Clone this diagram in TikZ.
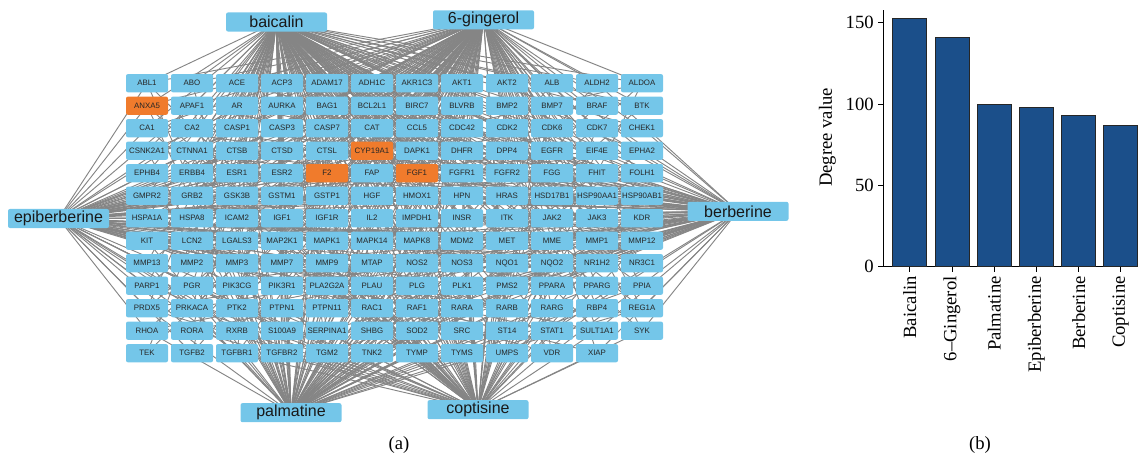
\documentclass[tikz,border=0pt]{standalone}
\usepackage{fontspec}
\setmainfont{Liberation Serif}
\newfontfamily\arialf{Liberation Sans}
\usetikzlibrary{backgrounds}
\definecolor{tblue}{HTML}{74C6E9}
\definecolor{torange}{HTML}{F07B2C}
\definecolor{edgegray}{HTML}{858585}
\definecolor{barblue}{HTML}{1B4F8A}
\begin{document}
\begin{tikzpicture}[x=0.75pt,y=-0.75pt,
  tgt/.style={rectangle,rounded corners=1.5pt,minimum width=31.5pt,minimum height=13.7pt,inner sep=0pt,font=\arialf\fontsize{5.9}{6}\selectfont,text=black!85},
  cmp/.style={rectangle,rounded corners=1.5pt,fill=tblue,minimum width=75.75pt,minimum height=14.3pt,inner sep=0pt,font=\arialf\fontsize{12}{12}\selectfont,text=black!90},
  edge/.style={draw=edgegray,line width=0.7pt},
  serifl/.style={font=\fontsize{14}{14}\selectfont,inner sep=0pt},
  bar/.style={fill=barblue,draw=black!85,line width=0.6pt},
  axis/.style={draw=black,line width=0.7pt}]
\useasboundingbox (0,0) rectangle (1138,457);
% targets
\foreach \n [count=\k from 0] in {ABL1,ABO,ACE,ACP3,ADAM17,ADH1C,AKR1C3,AKT1,AKT2,ALB,ALDH2,ALDOA,
ANXA5,APAF1,AR,AURKA,BAG1,BCL2L1,BIRC7,BLVRB,BMP2,BMP7,BRAF,BTK,
CA1,CA2,CASP1,CASP3,CASP7,CAT,CCL5,CDC42,CDK2,CDK6,CDK7,CHEK1,
CSNK2A1,CTNNA1,CTSB,CTSD,CTSL,CYP19A1,DAPK1,DHFR,DPP4,EGFR,EIF4E,EPHA2,
EPHB4,ERBB4,ESR1,ESR2,F2,FAP,FGF1,FGFR1,FGFR2,FGG,FHIT,FOLH1,
GMPR2,GRB2,GSK3B,GSTM1,GSTP1,HGF,HMOX1,HPN,HRAS,HSD17B1,HSP90AA1,HSP90AB1,
HSPA1A,HSPA8,ICAM2,IGF1,IGF1R,IL2,IMPDH1,INSR,ITK,JAK2,JAK3,KDR,
KIT,LCN2,LGALS3,MAP2K1,MAPK1,MAPK14,MAPK8,MDM2,MET,MME,MMP1,MMP12,
MMP13,MMP2,MMP3,MMP7,MMP9,MTAP,NOS2,NOS3,NQO1,NQO2,NR1H2,NR3C1,
PARP1,PGR,PIK3CG,PIK3R1,PLA2G2A,PLAU,PLG,PLK1,PMS2,PPARA,PPARG,PPIA,
PRDX5,PRKACA,PTK2,PTPN1,PTPN11,RAC1,RAF1,RARA,RARB,RARG,RBP4,REG1A,
RHOA,RORA,RXRB,S100A9,SERPINA1,SHBG,SOD2,SRC,ST14,STAT1,SULT1A1,SYK,
TEK,TGFB2,TGFBR1,TGFBR2,TGM2,TNK2,TYMP,TYMS,UMPS,VDR,XIAP} {
  \pgfmathtruncatemacro\col{mod(\k,12)}
  \pgfmathtruncatemacro\row{div(\k,12)}
  \def\fc{tblue}
  \ifnum\k=12 \def\fc{torange}\fi
  \ifnum\k=41 \def\fc{torange}\fi
  \ifnum\k=52 \def\fc{torange}\fi
  \ifnum\k=54 \def\fc{torange}\fi
  \node[tgt,fill=\fc] (t\k) at ({147+45*\col},{83.2+22.5*\row}) {\n};
}
% compounds
\node[cmp] (baic) at (276.5,22) {baicalin};
\node[cmp] (ging) at (483.5,19.8) {6-gingerol};
\node[cmp] (epib) at (58.5,218.5) {epiberberine};
\node[cmp] (berb) at (738,211.3) {berberine};
\node[cmp] (palm) at (291,412.7) {palmatine};
\node[cmp] (copt) at (478,409.7) {coptisine};
% edges
\begin{scope}[on background layer]
\foreach \cn/\mm/\off/\dg in {baic/7/3/150, ging/13/40/138, palm/17/11/97, epib/23/77/95, berb/29/101/90, copt/37/59/84} {
  \foreach \k in {0,...,154} {
    \pgfmathtruncatemacro\rr{mod(\k*\mm+\off,155)}
    \ifnum\rr<\dg \draw[edge] (\cn.center) -- (t\k.center);\fi
  }
}
\end{scope}
% bar chart
\draw[axis] (883.3,10) -- (883.3,266.7);
\draw[axis] (878,266.7) -- (1138,266.7);
\foreach \v in {0,50,100,150} {
  \draw[axis] (878,{266.7-1.626*\v}) -- (883.3,{266.7-1.626*\v});
  \node[serifl,anchor=east] (yl\v) at (874,{266.7-1.626*\v}) {\v};
}
\foreach \xc/\v/\lab [count=\j] in {909.7/153/Baicalin, 952/141/6–Gingerol, 994.3/100/Palmatine, 1036.3/98/Epiberberine, 1078.7/93/Berberine, 1120.7/87/Coptisine} {
  \draw[bar] ({\xc-17},266.7) rectangle ({\xc+17},{266.7-1.626*\v});
  \draw[axis] (\xc,266.7) -- (\xc,271.5);
  \node[serifl,rotate=90,anchor=east] (xl\j) at (\xc,276) {\lab};
}
\node[serifl,rotate=90] (ylab) at (827.5,137.5) {Degree value};
\node[serifl] (capa) at (399,445) {(a)};
\node[serifl] (capb) at (980,445) {(b)};
\end{tikzpicture}
\end{document}
